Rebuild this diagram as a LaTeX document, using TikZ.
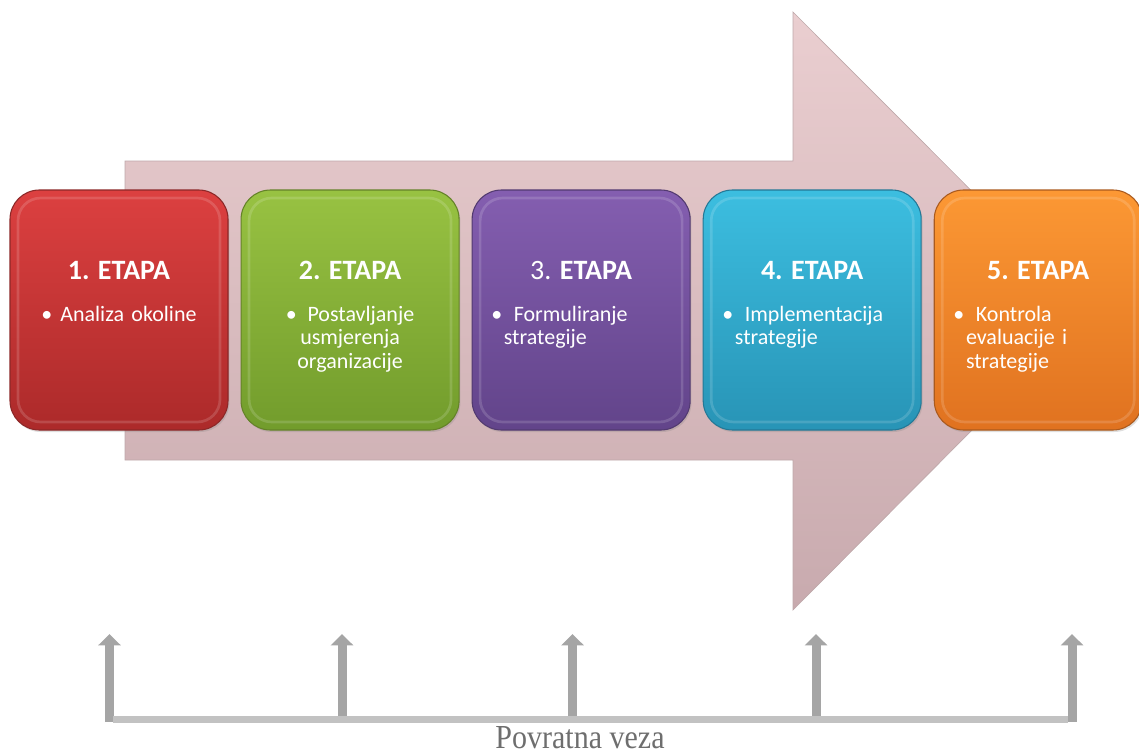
\documentclass[tikz,border=0pt]{standalone}
\usepackage{fontspec}
\setmainfont{Carlito}
\newfontfamily\fbfont{Liberation Serif}
\usetikzlibrary{positioning, arrows.meta, shadows}
\definecolor{redtop}{RGB}{220,64,64}
\definecolor{redbot}{RGB}{172,42,42}
\definecolor{redline}{RGB}{140,40,40}
\definecolor{greentop}{RGB}{152,194,66}
\definecolor{greenbot}{RGB}{114,156,44}
\definecolor{greenline}{RGB}{100,130,40}
\definecolor{violettop}{RGB}{132,94,176}
\definecolor{violetbot}{RGB}{98,68,138}
\definecolor{violetline}{RGB}{82,58,112}
\definecolor{cyantop}{RGB}{60,190,224}
\definecolor{cyanbot}{RGB}{40,148,182}
\definecolor{cyanline}{RGB}{36,120,150}
\definecolor{orangetop}{RGB}{252,152,52}
\definecolor{orangebot}{RGB}{224,114,32}
\definecolor{orangeline}{RGB}{170,90,30}
\definecolor{arrowtop}{RGB}{234,206,208}
\definecolor{arrowbot}{RGB}{200,170,174}
\definecolor{arrowline}{RGB}{190,168,170}
\definecolor{fbgray}{RGB}{165,165,165}
\definecolor{fbbar}{RGB}{194,194,194}
\definecolor{fbtxt}{RGB}{110,110,110}
\tikzstyle{bigarrow} = [top color=arrowtop, bottom color=arrowbot, draw=arrowline, line width=0.5pt]
\tikzstyle{etapa} = [rectangle, rounded corners=22pt, minimum width=163.5pt, minimum height=180pt, line width=0.8pt, drop shadow={opacity=0.25, shadow xshift=1pt, shadow yshift=-1.5pt}, path picture={\draw[white, draw opacity=0.15, line width=2pt, rounded corners=17pt] ([shift={(6pt,-6pt)}]path picture bounding box.north west) rectangle ([shift={(-6pt,6pt)}]path picture bounding box.south east);}]
\tikzstyle{title} = [text=white, anchor=base, inner sep=0pt, font=\fontsize{21}{25}\selectfont\bfseries]
\tikzstyle{bulletc} = [text=white, anchor=base, inner sep=0pt, text width=150pt, align=center, font=\fontsize{16.5}{17.6}\selectfont]
\tikzstyle{bulletl} = [text=white, anchor=base west, inner sep=0pt, text width=130pt, align=left, font=\fontsize{16.5}{17.6}\selectfont]
\tikzstyle{fbarrow} = [draw=fbgray, line width=6.75pt, -{Triangle[width=16.5pt,length=8.5pt]}]
\tikzstyle{fbline} = [draw=fbbar, line width=5.25pt]
\tikzstyle{fbtext} = [text=fbtxt, anchor=base, inner sep=0pt, font=\fbfont\fontsize{22.5}{26}\selectfont]

\begin{document}
\begin{tikzpicture}[x=0.75pt, y=-0.75pt, node distance=9pt]
\useasboundingbox (0,0) rectangle (1139,753);
% big arrow behind the stages
\path [bigarrow] (125,161) -- (793,161) -- (793,12) -- (1091,310.5) -- (793,610) -- (793,460) -- (125,460) -- cycle;
% stages
\node (e1) [etapa, top color=redtop, bottom color=redbot, draw=redline] at (119,310) {};
\node (e2) [etapa, top color=greentop, bottom color=greenbot, draw=greenline, right=of e1] {};
\node (e3) [etapa, top color=violettop, bottom color=violetbot, draw=violetline, right=of e2] {};
\node (e4) [etapa, top color=cyantop, bottom color=cyanbot, draw=cyanline, right=of e3] {};
\node (e5) [etapa, top color=orangetop, bottom color=orangebot, draw=orangeline, minimum width=156pt, right=of e4] {};
\node (t1) [title] at ([yshift=-67.5pt]e1.north) {1. ETAPA};
\node (t2) [title] at ([yshift=-67.5pt]e2.north) {2. ETAPA};
\node (t3) [title] at ([yshift=-67.5pt]e3.north) {{\mdseries 3.} ETAPA};
\node (t4) [title] at ([yshift=-67.5pt]e4.north) {4. ETAPA};
\node (t5) [title] at ([yshift=-67.5pt]e5.north) {5. ETAPA};
\node (l1) [bulletc] at ([yshift=-99pt]e1.north) {\textbullet\hspace{6pt}Analiza okoline};
\node (l2) [bulletc] at ([yshift=-99pt]e2.north) {\textbullet\hspace{8pt}Postavljanje\\usmjerenja\\organizacije};
\node (l3) [bulletl] at ([xshift=24pt,yshift=-99pt]e3.north west) {\hspace*{-9.4pt}\textbullet\hspace{8.6pt}Formuliranje\\strategije};
\node (l4) [bulletl] at ([xshift=24pt,yshift=-99pt]e4.north west) {\hspace*{-9.4pt}\textbullet\hspace{8.6pt}Implementacija\\strategije};
\node (l5) [bulletl] at ([xshift=24pt,yshift=-99pt]e5.north west) {\hspace*{-9.4pt}\textbullet\hspace{8.6pt}Kontrola\\evaluacije i\\strategije};
% feedback
\foreach \i/\x in {1/109.5, 2/342, 3/572.5, 4/816, 5/1072} {
  \coordinate (s\i) at (\x,722);
  \coordinate (a\i) at (\x,634);
}
\foreach \i in {1,...,5}
  \draw [fbarrow] (s\i) -- (a\i);
\coordinate (bl) at (113,719);
\coordinate (br) at (1068,719);
\draw [fbline] (bl) -- (br);
\node (fb) [fbtext] at (580,748) {\scalebox{1}[1.12]{Povratna veza}};
\end{tikzpicture}
\end{document}
